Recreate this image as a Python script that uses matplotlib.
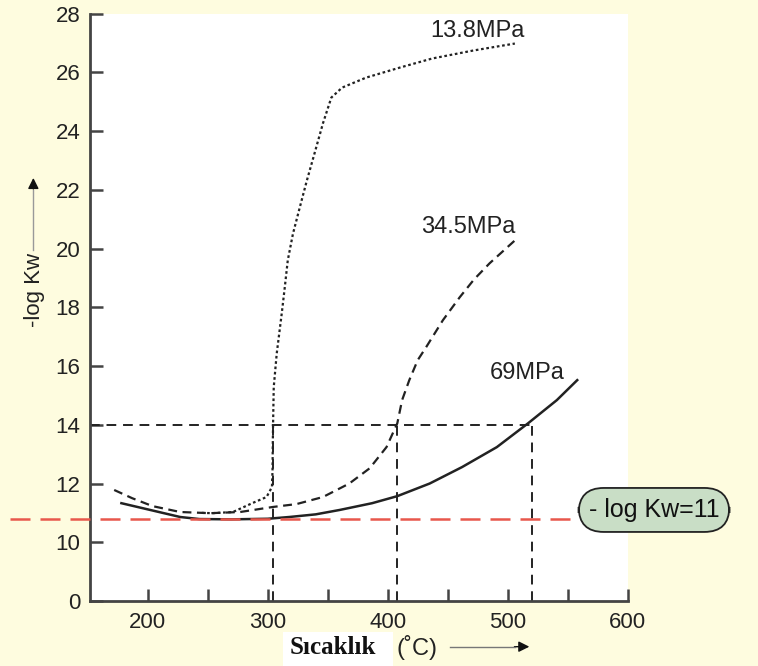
import matplotlib.pyplot as plt
from matplotlib.patches import Rectangle

plt.rcParams['font.family'] = ['Liberation Sans', 'DejaVu Sans']

# Curves (temperature in C, -log Kw in plot units,
# the y axis is broken: the "0" tick sits where 8 would be)
t_69 = [178, 202, 227, 243, 270, 300, 318, 340, 360, 387, 408, 435, 462, 491, 517, 541, 558]
k_69 = [11.33, 11.1, 10.86, 10.79, 10.78, 10.8, 10.86, 10.95, 11.1, 11.33, 11.57, 12.0,
        12.56, 13.24, 14.05, 14.84, 15.52]

t_345 = [172, 187, 204, 227, 252, 277, 304, 324, 346, 368, 385, 399, 408, 412, 418, 425,
         432, 446, 460, 472, 485, 508]
k_345 = [11.78, 11.5, 11.23, 11.03, 10.99, 11.03, 11.2, 11.3, 11.54, 12.0, 12.52, 13.24,
         14.05, 14.84, 15.52, 16.2, 16.64, 17.56, 18.34, 18.95, 19.5, 20.35]

t_138 = [245, 254, 271, 287, 299, 303.5, 304, 304.2, 304.5, 305, 307.5, 311.7, 314.2, 316.7,
         321, 326.7, 332.5, 339, 346, 353, 362, 382, 410, 437, 471, 506]
k_138 = [11.0, 10.99, 11.03, 11.33, 11.54, 11.88, 12.46, 13.3, 14.16, 15.28, 16.43, 17.8,
         18.68, 19.6, 20.5, 21.4, 22.3, 23.24, 24.26, 25.14, 25.48, 25.82, 26.16, 26.47,
         26.74, 26.98]

# guide lines at -log Kw = 14
guide_y = 14
guide_x = [304, 408, 520]
red_level = 10.79

y_ticks = [8, 10, 12, 14, 16, 18, 20, 22, 24, 26, 28]
y_labels = ['0', '10', '12', '14', '16', '18', '20', '22', '24', '26', '28']
x_ticks = [200, 250, 300, 350, 400, 450, 500, 550, 600]
x_labels = ['200', '', '300', '', '400', '', '500', '', '600']

bg = '#FEFCDF'
fig = plt.figure(figsize=(7.58, 6.66), dpi=100, facecolor=bg)
ax = fig.add_axes([0.119, 0.0976, 0.709, 0.882])
ax.set_facecolor('white')

# curves
ax.plot(t_69, k_69, color='#222222', lw=1.8)
ax.plot(t_345, k_345, color='#222222', lw=1.6, linestyle=(0, (4, 2.5)))
ax.plot(t_138, k_138, color='#222222', lw=1.6, linestyle=(0, (1.2, 1.2)))

# dashed guides
ax.plot([152, guide_x[2]], [guide_y, guide_y], color='#222222', lw=1.4, linestyle=(0, (5, 3.5)))
for gx in guide_x:
    ax.plot([gx, gx], [8, guide_y], color='#222222', lw=1.4, linestyle=(0, (5, 3.5)))

# red reference line, runs past the axis to the left edge
ax.plot([85, 558], [red_level, red_level], color='#E8574C', lw=1.8,
        linestyle=(0, (8, 4)), clip_on=False, zorder=3)

ax.text(622, 11.1, '- log Kw=11', fontsize=18, ha='center', va='center', color='#111111',
        clip_on=False, zorder=5,
        bbox=dict(boxstyle='round,pad=0.4,rounding_size=1.0', fc='#C9DEC6', ec='#222222', lw=1.3))

# curve labels
ax.text(475, 27.42, '13.8MPa', fontsize=17, ha='center', va='center', color='#222222')
ax.text(467, 20.72, '34.5MPa', fontsize=17, ha='center', va='center', color='#222222')
ax.text(516, 15.76, '69MPa', fontsize=17, ha='center', va='center', color='#222222')

ax.set_xlim(152, 600)
ax.set_ylim(8, 28)
ax.set_yticks(y_ticks)
ax.set_yticklabels(y_labels)
ax.set_xticks(x_ticks)
ax.set_xticklabels(x_labels)
ax.tick_params(direction='in', length=9, width=1.8, color='#444444',
               labelsize=16, labelcolor='#222222')
ax.tick_params(axis='y', pad=7)
ax.tick_params(axis='x', pad=8)
for side in ['top', 'right']:
    ax.spines[side].set_visible(False)
for side in ['left', 'bottom']:
    ax.spines[side].set_color('#444444')
    ax.spines[side].set_linewidth(2)

# y axis label with arrow
fig.text(0.045, 0.565, '-log Kw', rotation=90, fontsize=16, ha='center', va='center', color='#222222')
fig.add_artist(plt.Line2D([0.044, 0.044], [0.625, 0.715], color='#999999', lw=1))
ax.annotate('', xy=(0.044, 0.737), xytext=(0.044, 0.712), xycoords='figure fraction',
            arrowprops=dict(arrowstyle='-|>', color='#111111', lw=1, mutation_scale=16))

# x axis label with arrow, on a white patch
fig.add_artist(Rectangle((0.373, 0.0), 0.146, 0.051, transform=fig.transFigure,
                         fc='white', ec='none'))
fig.text(0.382, 0.028, 'Sıcaklık', fontsize=18, fontweight='bold', family='Liberation Serif',
         ha='left', va='center', color='#111111')
fig.text(0.523, 0.028, '(˚C)', fontsize=17, ha='left', va='center', color='#222222')
fig.add_artist(plt.Line2D([0.594, 0.68], [0.029, 0.029], color='#777777', lw=1))
ax.annotate('', xy=(0.702, 0.029), xytext=(0.675, 0.029), xycoords='figure fraction',
            arrowprops=dict(arrowstyle='-|>', color='#111111', lw=1, mutation_scale=16))

fig.savefig('out.png', dpi=100, facecolor=bg)
